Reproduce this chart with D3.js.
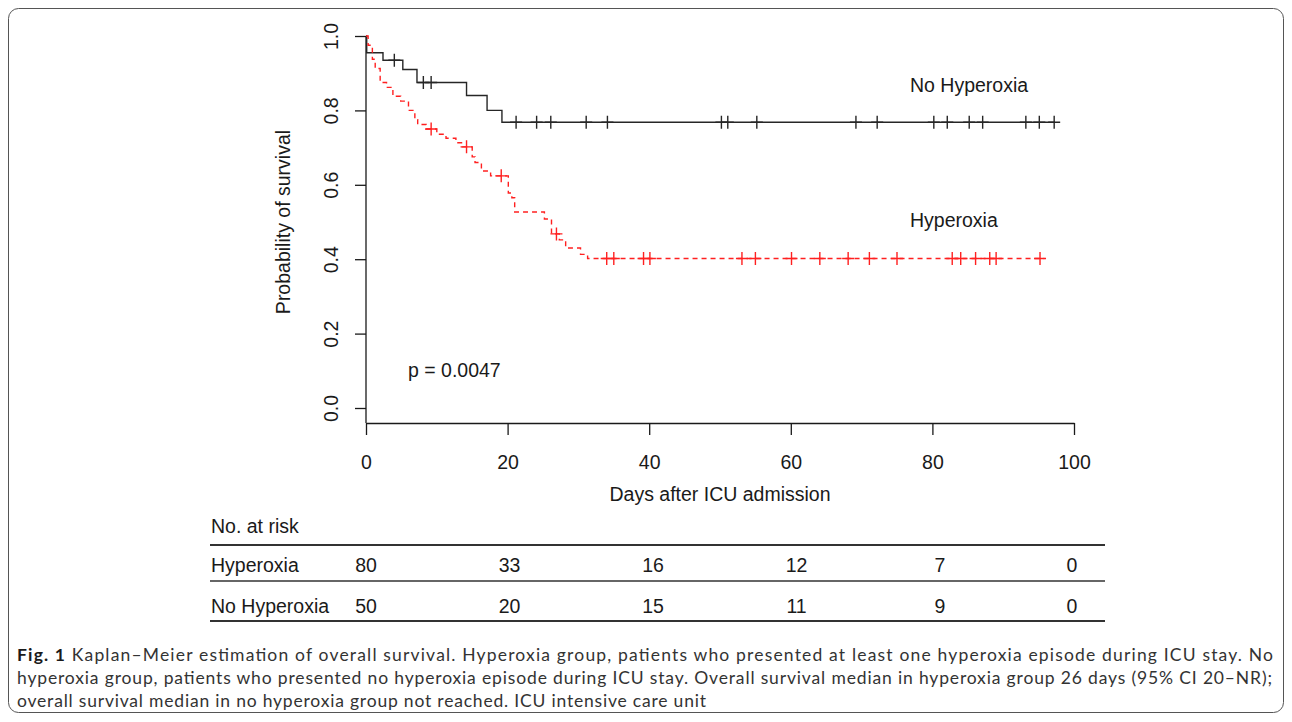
<!DOCTYPE html>
<html>
<head>
<meta charset="utf-8">
<script src="https://cdn.jsdelivr.net/npm/d3@7"></script>
<style>
  body { margin: 0; background: #fff; }
  svg { display: block; }
</style>
</head>
<body>
<svg id="chart" width="1292" height="722"></svg>
<script>
// survival steps: time of each drop (days) and survival after it
var hyperTimes = [0.3, 0.9, 1.3, 2.0, 2.9, 3.8, 4.9, 6.0, 6.9, 7.3, 8.5, 10.0, 11.3, 12.7, 13.6, 15.0, 15.4, 16.3, 17.6, 20.1, 20.6, 21.0, 25.2, 26.2, 27.3, 28.2, 30.3, 31.3];
var hyperSurv  = [0.975, 0.9375, 0.9125, 0.875, 0.862, 0.838, 0.825, 0.80, 0.775, 0.762, 0.75, 0.736, 0.725, 0.713, 0.702, 0.675, 0.66, 0.637, 0.624, 0.578, 0.565, 0.527, 0.508, 0.468, 0.452, 0.43, 0.413, 0.402];
var hyperCensor = [9.2, 14.2, 19.1, 26.9, 34.0, 35.0, 39.2, 40.1, 53.1, 55.0, 60.1, 64.1, 68.1, 71.1, 75.0, 82.8, 84.0, 86.1, 88.1, 89.0, 95.2];
var hyperEnd = 95.8;

var noHyperTimes = [0.1, 2.4, 5.2, 7.2, 14.2, 17.1, 19.2];
var noHyperSurv  = [0.955, 0.935, 0.91, 0.875, 0.84, 0.80, 0.768];
var noHyperCensor = [4.0, 8.1, 9.2, 21.2, 24.1, 26.1, 31.1, 34.1, 50.2, 51.1, 55.2, 69.2, 72.2, 80.2, 82.1, 85.2, 87.1, 93.2, 95.1, 97.2];
var noHyperEnd = 97.3;

var xTicks = [0, 20, 40, 60, 80, 100];
var yTicks = [0, 0.2, 0.4, 0.6, 0.8, 1.0];

var riskGroups = ["Hyperoxia", "No Hyperoxia"];
var riskHyper = [80, 33, 16, 12, 7, 0];
var riskNoHyper = [50, 20, 15, 11, 9, 0];

var captionLines = [
  "Kaplan\u2013Meier estimation of overall survival. Hyperoxia group, patients who presented at least one hyperoxia episode during ICU stay. No",
  "hyperoxia group, patients who presented no hyperoxia episode during ICU stay. Overall survival median in hyperoxia group 26 days (95% CI 20\u2013NR);",
  "overall survival median in no hyperoxia group not reached. ICU intensive care unit"
];
var captionWidths = [1256, 1255, 689];

var svg = d3.select("#chart");
var font = "'Liberation Sans', Arial, Helvetica, sans-serif";
var ink = "#1a1a1a";

// frame round the figure
svg.append("rect")
  .attr("x", 8.5).attr("y", 8.5)
  .attr("width", 1275).attr("height", 704)
  .attr("rx", 10).attr("ry", 10)
  .style("fill", "none").style("stroke", "#555").style("stroke-width", 1);

var x = d3.scaleLinear().domain([0, 100]).range([366, 1074]);
var y = d3.scaleLinear().domain([0, 1]).range([408, 36]);

// x axis, detached below the plot like base R
var xAxis = svg.append("g")
  .attr("transform", "translate(0,423)")
  .call(d3.axisBottom(x).tickValues(xTicks).tickSize(12).tickSizeOuter(0).tickPadding(20));
xAxis.select(".domain").style("stroke", ink).style("stroke-width", 1.3);
xAxis.selectAll(".tick line").style("stroke", ink).style("stroke-width", 1.3);
xAxis.selectAll("text").style("font-family", font).style("font-size", "19.5px").style("fill", ink);

// y axis with rotated labels
var yAxis = svg.append("g")
  .attr("transform", "translate(366,0)")
  .call(d3.axisLeft(y).tickValues(yTicks).tickSize(11).tickSizeOuter(0).tickFormat(d3.format(".1f")));
yAxis.select(".domain").remove();
yAxis.selectAll(".tick line").style("stroke", ink).style("stroke-width", 1.3);
yAxis.selectAll("text")
  .attr("transform", "rotate(-90)")
  .attr("x", 0).attr("y", -28).attr("dy", null)
  .style("text-anchor", "middle")
  .style("font-family", font).style("font-size", "19.5px").style("fill", ink);
svg.append("line")
  .attr("x1", 366).attr("x2", 366)
  .attr("y1", y(1)).attr("y2", 423)
  .style("stroke", ink).style("stroke-width", 1.3);

svg.append("text")
  .attr("transform", "translate(290," + ((y(0) + y(1)) / 2) + ") rotate(-90)")
  .style("text-anchor", "middle")
  .style("font-family", font).style("font-size", "19.5px").style("fill", ink)
  .text("Probability of survival");

svg.append("text")
  .attr("x", (x(0) + x(100)) / 2).attr("y", 501)
  .style("text-anchor", "middle")
  .style("font-family", font).style("font-size", "19.5px").style("fill", ink)
  .text("Days after ICU admission");

/*
survival level at time t of a step curve
*/
function survAt(times, surv, t){
  var s = 1;
  for(var i = 0; i < times.length; i++){
    if(times[i] <= t) s = surv[i];
  }
  return s;
}

var stepLine = d3.line()
  .x(function(d){ return x(d[0]); })
  .y(function(d){ return y(d[1]); })
  .curve(d3.curveStepAfter);

function drawCurve(times, surv, end, censor, color, dash){
  var pts = [[0, 1]];
  times.forEach(function(t, i){ pts.push([t, surv[i]]); });
  pts.push([end, surv[surv.length - 1]]);

  svg.append("path")
    .attr("d", stepLine(pts))
    .style("fill", "none")
    .style("stroke", color)
    .style("stroke-width", 1.4)
    .style("stroke-dasharray", dash);

  censor.forEach(function(t){
    var cx = x(t), cy = y(survAt(times, surv, t));
    svg.append("path")
      .attr("d", "M" + (cx - 6) + "," + cy + "H" + (cx + 6) + "M" + cx + "," + (cy - 6.5) + "V" + (cy + 6.5))
      .style("stroke", color)
      .style("stroke-width", 1.4)
      .style("fill", "none");
  });
}

drawCurve(noHyperTimes, noHyperSurv, noHyperEnd, noHyperCensor, "#262626", null);
drawCurve(hyperTimes, hyperSurv, hyperEnd, hyperCensor, "#ff2020", "5,4");

svg.append("text").attr("x", 910).attr("y", 92)
  .style("font-family", font).style("font-size", "19.5px").style("fill", ink)
  .text("No Hyperoxia");
svg.append("text").attr("x", 910).attr("y", 227)
  .style("font-family", font).style("font-size", "19.5px").style("fill", ink)
  .text("Hyperoxia");
svg.append("text").attr("x", 408).attr("y", 377)
  .style("font-family", font).style("font-size", "19.5px").style("fill", ink)
  .text("p = 0.0047");

// number at risk table
var colX = d3.scaleLinear().domain([0, 80, 100]).range([366, 940, 1072]);
var tableFont = "19.5px";

svg.append("text").attr("x", 211).attr("y", 533)
  .style("font-family", font).style("font-size", tableFont).style("fill", ink)
  .text("No. at risk");

[[545, 2.2], [581, 1.6], [621, 2.2]].forEach(function(l){
  svg.append("line")
    .attr("x1", 210).attr("x2", 1105)
    .attr("y1", l[0]).attr("y2", l[0])
    .style("stroke", "#333").style("stroke-width", l[1]);
});

[riskHyper, riskNoHyper].forEach(function(row, r){
  var by = r === 0 ? 572 : 613;
  svg.append("text").attr("x", 211).attr("y", by)
    .style("font-family", font).style("font-size", tableFont).style("fill", ink)
    .text(riskGroups[r]);
  svg.selectAll(null).data(row).enter().append("text")
    .attr("x", function(d, i){ return colX(xTicks[i]); })
    .attr("y", by)
    .style("text-anchor", "middle")
    .style("font-family", font).style("font-size", tableFont).style("fill", ink)
    .text(function(d){ return d; });
});

// caption, each line stretched to the width it has in the figure
var capFont = "Lato, 'Open Sans', sans-serif";
captionLines.forEach(function(line, i){
  var t = svg.append("text")
    .attr("x", 17).attr("y", 661 + i * 23)
    .attr("textLength", captionWidths[i])
    .attr("lengthAdjust", "spacing")
    .style("font-family", capFont).style("font-size", "17.5px").style("fill", "#333");
  if(i === 0){
    t.append("tspan").style("font-weight", "bold").style("fill", "#1a1a1a").text("Fig. 1");
    t.append("tspan").text(" " + line);
  } else {
    t.text(line);
  }
});
</script>
</body>
</html>
